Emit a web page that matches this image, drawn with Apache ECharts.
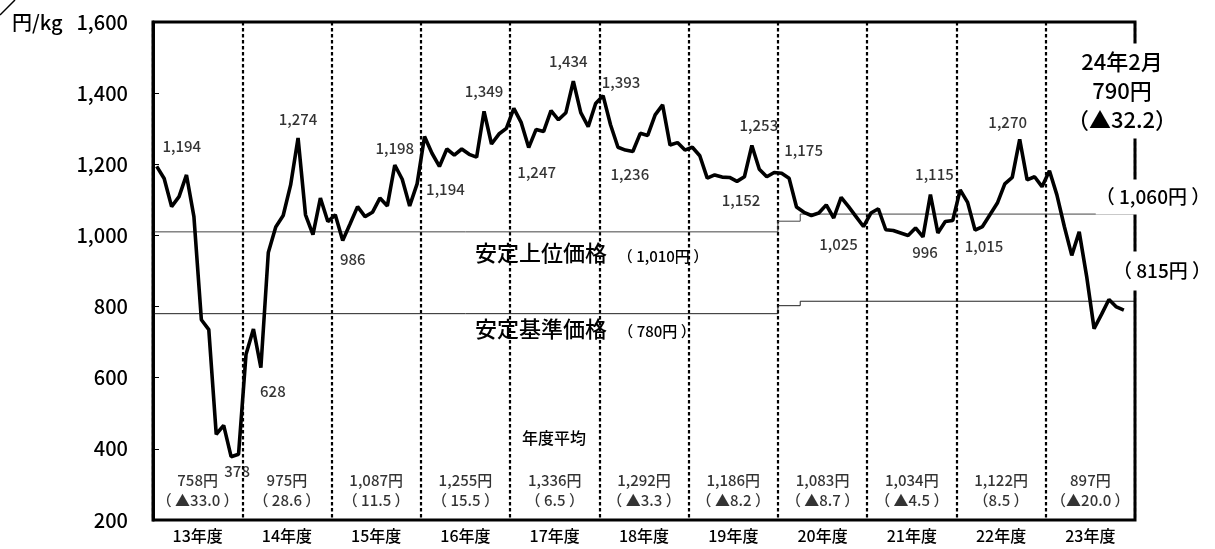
<!DOCTYPE html>
<html><head><meta charset="utf-8">
<script src="https://cdn.jsdelivr.net/npm/echarts@6/dist/echarts.min.js"></script>
<style>html,body{margin:0;padding:0;background:#fff}#c{width:1215px;height:549px}</style>
</head><body><div id="c"></div>
<script>
// ---------- data ----------
const fiscalYears = ['13年度','14年度','15年度','16年度','17年度','18年度','19年度','20年度','21年度','22年度','23年度'];
const monthNames = ['4月','5月','6月','7月','8月','9月','10月','11月','12月','1月','2月','3月'];
const fy13 = [1194, 1160, 1081, 1109, 1170, 1053, 763, 735, 441, 466, 378, 385];
const fy14 = [665, 737, 628, 952, 1024, 1056, 1142, 1274, 1058, 1002, 1105, 1039];
const fy15 = [1058, 986, 1033, 1081, 1053, 1065, 1105, 1083, 1198, 1158, 1083, 1145];
const fy16 = [1278, 1231, 1194, 1243, 1226, 1243, 1228, 1220, 1349, 1257, 1285, 1301];
const fy17 = [1357, 1317, 1247, 1298, 1292, 1351, 1325, 1345, 1434, 1345, 1306, 1371];
const fy18 = [1393, 1311, 1248, 1240, 1236, 1287, 1281, 1339, 1367, 1254, 1261, 1240];
const fy19 = [1248, 1224, 1161, 1170, 1164, 1163, 1152, 1165, 1253, 1186, 1165, 1177];
const fy20 = [1175, 1161, 1080, 1065, 1056, 1063, 1086, 1049, 1107, 1081, 1053, 1025];
const fy21 = [1063, 1075, 1016, 1014, 1007, 1000, 1021, 996, 1115, 1007, 1039, 1042];
const fy22 = [1128, 1093, 1015, 1025, 1058, 1091, 1145, 1163, 1270, 1156, 1165, 1137];
const fy23 = [1182, 1114, 1025, 944, 1010, 885, 738, 778, 820, 799, 790];
const yearAvg = ['758円','975円','1,087円','1,255円','1,336円','1,292円','1,186円','1,083円','1,034円','1,122円','897円'];
const yearChange = ['（ ▲33.0 ）','（ 28.6 ）','（ 11.5 ）','（ 15.5 ）','（ 6.5 ）','（ ▲3.3 ）','（ ▲8.2 ）','（ ▲8.7 ）','（ ▲4.5 ）','（8.5 ）','（▲20.0 ）'];
const upperPrice = [1010, 1060];   // 安定上位価格 old / new
const lowerPrice = [780, 815];     // 安定基準価格 old / new
const yTicks = [200, 400, 600, 800, 1000, 1200, 1400, 1600];
const labelledMonths = [0,10,14,19,25,32,38,44,50,56,60,64,78,80,84,95,103,104,110,116];

// ---------- layout / style ----------
const FONT = "'Noto Sans CJK JP', 'Liberation Sans', sans-serif";
const FW = 500;
const labelOffsets = {0:[25,-20],10:[6,15],14:[12,24],19:[0,-19],25:[10,19],32:[0,-17],38:[6,23],44:[0,-20],50:[8,25],56:[-5,-20],60:[18,-13],64:[-3,23],78:[4,19],80:[7,-20],84:[22,-23],95:[-25,18],103:[2,15],104:[4,-20],110:[9,16],116:[-12,-17]};
const avgLabelY = 284;

const months = fiscalYears.flatMap(y => monthNames.map(m => y + m));
const prices = [].concat(fy13, fy14, fy15, fy16, fy17, fy18, fy19, fy20, fy21, fy22, fy23);
const comma = v => String(v).replace(/\B(?=(\d{3})+(?!\d))/g, ',');

const peakData = labelledMonths.map(i => [i, prices[i]]);

const nMonths = months.length;
const switchStart = 84, switchEnd = 87;
const upperLine = [[0, upperPrice[0]], [switchStart, upperPrice[0]], [switchStart, (upperPrice[0]+upperPrice[1])/2 + 5],
  [switchEnd, (upperPrice[0]+upperPrice[1])/2 + 5], [switchEnd, upperPrice[1]], [nMonths, upperPrice[1]]];
const lowerLine = [[0, lowerPrice[0]], [switchStart, lowerPrice[0]], [switchStart, (lowerPrice[0]+lowerPrice[1])/2 + 5],
  [switchEnd, (lowerPrice[0]+lowerPrice[1])/2 + 5], [switchEnd, lowerPrice[1]], [nMonths, lowerPrice[1]]];

const chart = echarts.init(document.getElementById('c'));
chart.setOption({
  animation: false,
  backgroundColor: '#fff',
  textStyle: { fontFamily: FONT, fontWeight: FW },
  grid: { left: 153, right: 80, top: 22, bottom: 29, show: true, borderColor: '#000', borderWidth: 3, backgroundColor: 'transparent', z: 3 },
  xAxis: [
    { type: 'category', data: months, show: false, boundaryGap: true, gridIndex: 0 },
    { type: 'category', data: fiscalYears, position: 'bottom', boundaryGap: true, gridIndex: 0,
      axisLine: { show: false }, axisTick: { show: false },
      axisLabel: { color: '#000', fontSize: 16, margin: 8, fontFamily: FONT, fontWeight: FW },
      splitLine: { show: true, lineStyle: { color: '#000', width: 2.2, type: [3.5, 2.5] } } },
    { type: 'value', min: 0, max: nMonths, show: false, gridIndex: 0 }
  ],
  yAxis: {
    type: 'value', min: yTicks[0], max: yTicks[yTicks.length-1], interval: 200,
    axisLine: { show: true, lineStyle: { color: '#000', width: 3 } },
    axisTick: { show: true, inside: true, length: 6, lineStyle: { color: '#000', width: 1 } },
    splitLine: { show: false },
    axisLabel: { color: '#000', fontSize: 20, margin: 25, fontFamily: FONT, fontWeight: FW, formatter: v => comma(v) }
  },
  series: [
    { type: 'line', xAxisIndex: 2, data: upperLine, symbol: 'none', silent: true,
      lineStyle: { color: '#444', width: 1 }, z: 2 },
    { type: 'line', xAxisIndex: 2, data: lowerLine, symbol: 'none', silent: true,
      lineStyle: { color: '#222', width: 1 }, z: 2 },
    { type: 'line', xAxisIndex: 0, data: prices, symbol: 'none', showSymbol: false,
      lineStyle: { color: '#000', width: 3.6 }, z: 5 },
    { type: 'scatter', xAxisIndex: 0, data: peakData, symbolSize: 0, silent: true, z: 6,
      labelLayout: p => {
        const o = labelOffsets[labelledMonths[p.dataIndex]];
        return { dx: o[0], dy: o[1], hideOverlap: false };
      },
      label: { show: true, position: 'inside', color: '#000', fontSize: 15, fontFamily: FONT, fontWeight: FW,
        formatter: p => comma(p.value[1]) } },
    { type: 'scatter', xAxisIndex: 1, symbolSize: 0, silent: true, z: 6,
      data: fiscalYears.map((y, i) => [i, avgLabelY]),
      label: { show: true, position: 'inside', color: '#000', fontSize: 15, lineHeight: 20, fontFamily: FONT, fontWeight: FW,
        formatter: p => yearAvg[p.dataIndex] + '\n' + yearChange[p.dataIndex] } }
  ],
  graphic: [
    { type: 'line', shape: { x1: 0, y1: 15, x2: 15, y2: 0 }, style: { stroke: '#000', lineWidth: 1.5 }, z: 100 },
    { type: 'text', x: 12, y: 22, z: 100, style: { text: '円/kg', font: FW + ' 20px ' + FONT, fill: '#000', textAlign: 'left', textVerticalAlign: 'middle' } },
    { type: 'text', x: 541, y: 253, z: 100, style: { text: '安定上位価格', font: FW + ' 22px ' + FONT, fill: '#000', textAlign: 'center', textVerticalAlign: 'middle' } },
    { type: 'text', x: 663, y: 256, z: 100, style: { text: '（ 1,010円 ）', font: FW + ' 15px ' + FONT, fill: '#000', textAlign: 'center', textVerticalAlign: 'middle' } },
    { type: 'text', x: 541, y: 329, z: 100, style: { text: '安定基準価格', font: FW + ' 22px ' + FONT, fill: '#000', textAlign: 'center', textVerticalAlign: 'middle' } },
    { type: 'text', x: 657, y: 331, z: 100, style: { text: '（ 780円 ）', font: FW + ' 15px ' + FONT, fill: '#000', textAlign: 'center', textVerticalAlign: 'middle' } },
    { type: 'text', x: 554, y: 438, z: 100, style: { text: '年度平均', font: FW + ' 16px ' + FONT, fill: '#000', textAlign: 'center', textVerticalAlign: 'middle' } },
    { type: 'text', x: 1122, y: 91, z: 100, style: { text: '24年2月\n790円\n（▲32.2）', font: FW + ' 22px ' + FONT, lineHeight: 29, fill: '#000',
        textAlign: 'center', textVerticalAlign: 'middle', backgroundColor: '#fff', padding: [4, 2, 4, 2] } },
    { type: 'text', x: 1153, y: 197, z: 100, style: { text: '（ 1,060円 ）', font: FW + ' 19px ' + FONT, fill: '#000',
        textAlign: 'center', textVerticalAlign: 'middle', backgroundColor: '#fff', padding: [8, 0, 8, 0] } },
    { type: 'text', x: 1162, y: 271, z: 100, style: { text: '（ 815円 ）', font: FW + ' 19px ' + FONT, fill: '#000',
        textAlign: 'center', textVerticalAlign: 'middle', backgroundColor: '#fff', padding: [10, 0, 10, 0] } }
  ]
});
</script></body></html>
